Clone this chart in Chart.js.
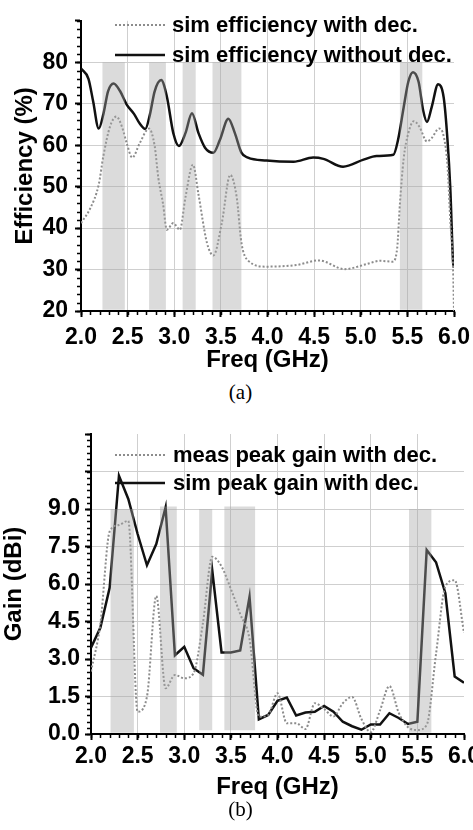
<!DOCTYPE html>
<html>
<head>
<meta charset="utf-8">
<script src="https://cdn.jsdelivr.net/npm/chart.js@4.4.1/dist/chart.umd.min.js"></script>
<style>
  body { margin: 0; width: 473px; height: 830px; overflow: hidden; background: #fff; position: relative; }
  .wrap { position: absolute; left: 0; }
  .cap { position: absolute; left: 4px; width: 473px; text-align: center; font: 21px "Liberation Serif", "Times New Roman", serif; color: #000; }
</style>
</head>
<body>
<div class="wrap" style="top:0"><canvas id="effChart" width="490" height="375"></canvas></div>
<div class="cap" style="top:380px">(a)</div>
<div class="wrap" style="top:400px"><canvas id="gainChart" width="490" height="402"></canvas></div>
<div class="cap" style="top:797px">(b)</div>
<script>
// (a) efficiency
const effFreqWith = [2.0, 2.10, 2.19, 2.24, 2.31, 2.38, 2.44, 2.49, 2.55, 2.63, 2.73, 2.79, 2.83, 2.88, 2.92, 2.99, 3.06, 3.12, 3.20, 3.26, 3.35, 3.42, 3.51, 3.60, 3.67, 3.72, 3.79, 3.99, 4.31, 4.55, 4.83, 5.06, 5.21, 5.34, 5.39, 5.42, 5.46, 5.51, 5.57, 5.63, 5.71, 5.76, 5.84, 5.89, 5.93, 5.96, 5.99, 6.0];
const effWith = [41.2, 44.8, 50.5, 57.4, 64.4, 66.9, 64.4, 60.5, 57.0, 60.5, 64.0, 59.8, 52.0, 45.8, 39.6, 41.2, 39.6, 47.4, 55.3, 48.1, 36.5, 33.4, 41.2, 52.8, 47.4, 36.5, 32.2, 30.7, 31.1, 32.2, 30.1, 31.3, 32.1, 31.9, 35.0, 45.8, 56.7, 62.9, 65.8, 64.4, 60.9, 61.7, 64.0, 62.1, 55.1, 41.9, 30.3, 20.0];
const effFreqWithout = [2.0, 2.08, 2.13, 2.19, 2.24, 2.29, 2.35, 2.42, 2.49, 2.57, 2.63, 2.69, 2.74, 2.79, 2.86, 2.92, 2.99, 3.05, 3.12, 3.19, 3.26, 3.33, 3.42, 3.49, 3.58, 3.65, 3.72, 3.79, 3.99, 4.28, 4.49, 4.60, 4.81, 5.03, 5.17, 5.35, 5.40, 5.46, 5.51, 5.56, 5.62, 5.67, 5.71, 5.76, 5.83, 5.89, 5.93, 5.96, 5.99, 6.0];
const effWithout = [78.5, 76.0, 70.6, 64.0, 67.5, 73.0, 74.9, 73.0, 69.8, 67.5, 65.2, 63.9, 67.5, 73.0, 75.7, 71.8, 62.9, 59.8, 62.9, 67.7, 62.9, 59.4, 58.2, 61.3, 66.4, 62.9, 58.2, 57.0, 56.3, 56.0, 57.0, 56.7, 54.8, 56.5, 57.4, 57.7, 61.3, 69.1, 75.3, 77.6, 75.3, 68.3, 65.6, 69.1, 74.7, 71.4, 61.3, 49.7, 31.9, 30.5];
const effBandStart = [2.23, 2.73, 3.09, 3.41, 5.42];
const effBandEnd = [2.47, 2.91, 3.23, 3.72, 5.66];
const effBandTop = [80, 80, 80, 80, 80];
const effBandBottom = [20.3, 20.3, 20.3, 20.3, 20.3];

// (b) peak gain
const gainFreq = [2.0, 2.1, 2.2, 2.3, 2.4, 2.5, 2.6, 2.7, 2.8, 2.9, 3.0, 3.1, 3.2, 3.3, 3.4, 3.5, 3.6, 3.7, 3.8, 3.9, 4.0, 4.1, 4.2, 4.3, 4.4, 4.5, 4.6, 4.7, 4.8, 4.9, 5.0, 5.1, 5.2, 5.3, 5.4, 5.5, 5.6, 5.7, 5.8, 5.9, 6.0];
const gainMeas = [2.5, 4.4, 8.1, 8.36, 8.53, 0.89, 1.49, 5.52, 1.83, 2.36, 2.23, 2.43, 4.43, 7.09, 6.7, 5.8, 4.8, 3.8, 0.69, 0.76, 1.63, 0.43, 0.43, 0.2, 1.23, 1.0, 0.7, 1.23, 1.48, 0.6, 0.07, 0.95, 1.92, 0.85, 0.27, 0.16, 0.36, 3.2, 5.9, 6.15, 4.05];
const gainSim = [3.45, 4.25, 5.85, 10.33, 9.4, 8.0, 6.75, 7.6, 9.07, 3.15, 3.49, 2.63, 2.37, 6.55, 3.26, 3.26, 3.34, 5.49, 0.59, 0.76, 1.33, 1.46, 0.74, 0.86, 0.89, 1.12, 0.89, 0.49, 0.31, 0.17, 0.38, 0.38, 0.83, 0.64, 0.4, 0.49, 7.36, 6.87, 5.63, 2.3, 2.05];
const gainBandStart = [2.21, 2.74, 3.16, 3.43, 5.41];
const gainBandEnd = [2.46, 2.92, 3.30, 3.76, 5.65];
const gainBandTop = [9.0, 9.1, 9.0, 9.1, 9.0];
const gainBandBottom = [0.05, 0.05, 0.15, 0.15, 0.05];

const sans = "'Liberation Sans', Arial, sans-serif";
const pts = (xs, ys) => xs.map((x, i) => ({ x: x, y: ys[i] }));

// grey bands, painted over the curves like in the figure
const bandPlugin = {
  id: 'bands',
  afterDraw(chart, args, opts) {
    const ctx = chart.ctx, xs = chart.scales.x, ys = chart.scales.y;
    ctx.save();
    ctx.fillStyle = 'rgba(165,165,165,0.4)';
    opts.start.forEach((s, i) => {
      const x0 = xs.getPixelForValue(s), x1 = xs.getPixelForValue(opts.end[i]);
      const y0 = ys.getPixelForValue(opts.top[i]), y1 = ys.getPixelForValue(opts.bottom[i]);
      ctx.fillRect(x0, y0, x1 - x0, y1 - y0);
    });
    ctx.restore();
  }
};

// small ruler ticks along both axes
const minorTicks = {
  id: 'minorTicks',
  afterDraw(chart, args, opts) {
    const ctx = chart.ctx, xs = chart.scales.x, ys = chart.scales.y;
    const a = chart.chartArea;
    ctx.save();
    ctx.strokeStyle = '#000';
    ctx.lineWidth = 1.5;
    ctx.beginPath();
    for (let v = xs.min; v <= xs.max + 1e-9; v += opts.xStep) {
      const px = Math.round(xs.getPixelForValue(v)) + 0.5;
      ctx.moveTo(px, a.bottom); ctx.lineTo(px, a.bottom + 4);
    }
    for (let v = ys.min; v <= ys.max + 1e-9; v += opts.yStep) {
      const py = Math.round(ys.getPixelForValue(v)) + 0.5;
      ctx.moveTo(a.left, py); ctx.lineTo(a.left - 4, py);
    }
    ctx.stroke();
    ctx.restore();
  }
};

// legend sitting inside the plot, as in the figure
const innerLegend = {
  id: 'innerLegend',
  afterDatasetsDraw(chart, args, opts) {
    const ctx = chart.ctx;
    ctx.save();
    ctx.font = 'bold 22px ' + sans;
    ctx.textBaseline = 'middle';
    ctx.fillStyle = '#000';
    chart.data.datasets.forEach((ds, i) => {
      const y = opts.rows[i];
      ctx.beginPath();
      ctx.strokeStyle = ds.borderColor;
      ctx.lineWidth = ds.borderWidth;
      ctx.setLineDash(ds.borderDash || []);
      ctx.moveTo(opts.x0, y); ctx.lineTo(opts.x1, y);
      ctx.stroke();
      ctx.fillText(ds.label, opts.textX, y + 1);
    });
    ctx.restore();
  }
};

function axisOpts(min, max, step, fmt, hideAbove, titleText, titlePad, tickPad, fitFn) {
  return {
    type: 'linear', min: min, max: max,
    ticks: {
      stepSize: step, padding: tickPad, color: '#000',
      font: { family: sans, size: 23, weight: 'bold' },
      callback: v => (v > hideAbove + 1e-9 ? '' : fmt(v))
    },
    grid: {
      color: c => (c.tick && Math.abs(c.tick.value - max) < 1e-9 ? 'rgba(0,0,0,0)' : '#cfcfcf'),
      lineWidth: 1, tickLength: 6, tickColor: '#000', tickWidth: 2
    },
    border: { display: true, color: '#000', width: 2 },
    title: {
      display: true, text: titleText, color: '#000', padding: titlePad,
      font: { family: sans, size: 24, weight: 'bold' }
    },
    afterFit: fitFn
  };
}

new Chart(document.getElementById('effChart'), {
  type: 'line',
  data: {
    datasets: [
      { label: 'sim efficiency with dec.', data: pts(effFreqWith, effWith), borderColor: '#8c8c8c', borderWidth: 2, borderDash: [2, 2], cubicInterpolationMode: 'monotone', pointRadius: 0 },
      { label: 'sim efficiency without dec.', data: pts(effFreqWithout, effWithout), borderColor: '#111', borderWidth: 2.5, cubicInterpolationMode: 'monotone', pointRadius: 0 }
    ]
  },
  options: {
    responsive: false, animation: false,
    layout: { padding: { left: 0, top: 10, right: 36, bottom: 0 } },
    plugins: {
      legend: { display: false }, tooltip: { enabled: false },
      bands: { start: effBandStart, end: effBandEnd, top: effBandTop, bottom: effBandBottom },
      minorTicks: { xStep: 0.1, yStep: 2 },
      innerLegend: { x0: 115, x1: 165, textX: 172, rows: [25, 55] }
    },
    scales: {
      x: axisOpts(2, 6, 0.5, v => v.toFixed(1), 6, 'Freq (GHz)', { top: 0, bottom: 0 }, 7, s => { s.height = 64; }),
      y: axisOpts(20, 90, 10, v => v, 80, 'Efficiency (%)', { top: 11, bottom: 0 }, 7, s => { s.width = 81; })
    }
  },
  plugins: [bandPlugin, minorTicks, innerLegend]
});

new Chart(document.getElementById('gainChart'), {
  type: 'line',
  data: {
    datasets: [
      { label: 'meas peak gain with dec.', data: pts(gainFreq, gainMeas), borderColor: '#8c8c8c', borderWidth: 2, borderDash: [2, 2], cubicInterpolationMode: 'monotone', pointRadius: 0 },
      { label: 'sim peak gain with dec.', data: pts(gainFreq, gainSim), borderColor: '#111', borderWidth: 2.5, tension: 0, pointRadius: 0 }
    ]
  },
  options: {
    responsive: false, animation: false,
    layout: { padding: { left: 0, top: 34, right: 26, bottom: 0 } },
    plugins: {
      legend: { display: false }, tooltip: { enabled: false },
      bands: { start: gainBandStart, end: gainBandEnd, top: gainBandTop, bottom: gainBandBottom },
      minorTicks: { xStep: 0.1, yStep: 0.25 },
      innerLegend: { x0: 115, x1: 165, textX: 173, rows: [55, 83] }
    },
    scales: {
      x: axisOpts(2, 6, 0.5, v => v.toFixed(1), 6, 'Freq (GHz)', { top: 0, bottom: 0 }, 3, s => { s.height = 68; }),
      y: axisOpts(0, 12, 1.5, v => v.toFixed(1), 9, 'Gain (dBi)', { top: 0, bottom: 0 }, 5, s => { s.width = 91; })
    }
  },
  plugins: [bandPlugin, minorTicks, innerLegend]
});
</script>
</body>
</html>
